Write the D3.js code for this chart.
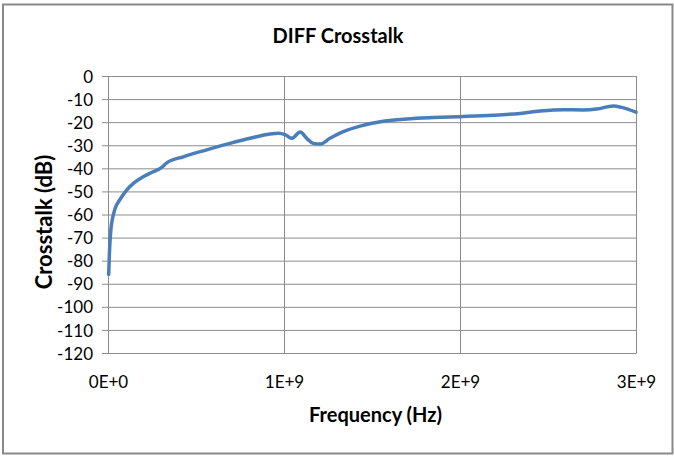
<!DOCTYPE html>
<html>
<head>
<meta charset="utf-8">
<script src="https://cdn.jsdelivr.net/npm/d3@7"></script>
<style>
  body { margin: 0; background: #fff; }
  svg { display: block; }
  .tick text { font-family: Lato, "Open Sans", sans-serif; font-size: 17px; fill: #000; }
</style>
</head>
<body>
<svg id="chart" width="674" height="456"></svg>
<script>
// frequency in Hz, crosstalk in dB
const freq = [0.004e9, 0.008e9, 0.012e9, 0.017e9, 0.025e9, 0.04e9, 0.068e9, 0.106e9, 0.144e9, 0.2e9, 0.257e9, 0.305e9,
    0.334e9, 0.428e9, 0.561e9, 0.693e9, 0.807e9, 0.92e9, 0.968e9, 1.006e9, 1.044e9, 1.092e9,
    1.129e9, 1.166e9, 1.205e9, 1.261e9, 1.337e9, 1.432e9, 1.564e9, 1.697e9, 1.848e9, 2.0e9,
    2.189e9, 2.341e9, 2.455e9, 2.587e9, 2.7e9, 2.777e9, 2.871e9, 2.919e9, 3.0e9];
const xtalk = [-86, -77, -71, -66, -62, -57.5, -53.5, -49.4, -46.5, -43.6, -41.5, -39.6,
    -37.6, -35, -32, -29.2, -27, -25.1, -24.8, -25.4, -27, -24.3,
    -27, -29.2, -29.5, -27, -24.1, -21.7, -19.6, -18.6, -18, -17.6,
    -17, -16.2, -15.2, -14.6, -14.7, -14.3, -13, -13.6, -15.7];
const xTicks = [0, 1e9, 2e9, 3e9];
const xTickLabels = ["0E+0", "1E+9", "2E+9", "3E+9"];
const yTicks = d3.range(0, -121, -10);

const svg = d3.select("#chart");
const margin = {left: 108, top: 76, right: 38, bottom: 103};
const w = 674 - margin.left - margin.right;
const h = 456 - margin.top - margin.bottom;

// outer frame
svg.append("rect")
    .attr("x", 3).attr("y", 4.5).attr("width", 669.5).attr("height", 449)
    .attr("fill", "none").attr("stroke", "#898989").attr("stroke-width", 2);

const g = svg.append("g").attr("transform", `translate(${margin.left},${margin.top})`);

const x = d3.scaleLinear().domain([0, 3e9]).range([0, w]);
const y = d3.scaleLinear().domain([-120, 0]).range([h, 0]);

// horizontal gridlines with the little stub to the left of the axis
g.append("g")
    .call(d3.axisLeft(y).tickValues(yTicks).tickSize(-w).tickFormat(""))
    .call(a => a.select(".domain").remove())
    .call(a => a.selectAll("line").attr("stroke", "#8c8c8c").attr("x1", -6));

// vertical gridlines
g.append("g")
    .attr("transform", `translate(0,${h})`)
    .call(d3.axisBottom(x).tickValues(xTicks.slice(1)).tickSize(h).tickFormat(""))
    .call(a => a.select(".domain").remove())
    .call(a => a.selectAll("line").attr("stroke", "#8c8c8c").attr("y2", -h));

// y axis
g.append("g")
    .call(d3.axisLeft(y).tickValues(yTicks).tickSize(0).tickPadding(15).tickFormat(d => String(d)))
    .call(a => a.select(".domain").attr("stroke", "#8c8c8c"))
    .call(a => a.selectAll("text").attr("dy", "0.36em"));

// x axis labels
g.append("g")
    .attr("transform", `translate(0,${h})`)
    .call(d3.axisBottom(x).tickValues(xTicks).tickSize(0).tickPadding(35)
        .tickFormat((d, i) => xTickLabels[i]))
    .call(a => a.select(".domain").attr("stroke", "#8c8c8c"))
    .call(a => a.selectAll("text").attr("dy", "0"));

const line = d3.line()
    .x((d, i) => x(freq[i]))
    .y(d => y(d))
    .curve(d3.curveMonotoneX);

g.append("path")
    .datum(xtalk)
    .attr("fill", "none")
    .attr("stroke", "#4a7ebb")
    .attr("stroke-width", 3.5)
    .attr("stroke-linejoin", "round")
    .attr("stroke-linecap", "round")
    .attr("d", line);

// titles
svg.append("text")
    .attr("x", 338).attr("y", 42.5)
    .attr("text-anchor", "middle")
    .style("font-family", "Lato, sans-serif").style("font-weight", "bold").style("font-size", "20px")
    .text("DIFF Crosstalk");

svg.append("text")
    .attr("x", 375.5).attr("y", 421.5)
    .attr("text-anchor", "middle")
    .style("font-family", "Lato, sans-serif").style("font-weight", "bold").style("font-size", "20px")
    .text("Frequency (Hz)");

svg.append("text")
    .attr("transform", "translate(52,222) rotate(-90)")
    .attr("text-anchor", "middle")
    .style("font-family", "Lato, sans-serif").style("font-weight", "bold").style("font-size", "22px")
    .text("Crosstalk (dB)");
</script>
</body>
</html>
